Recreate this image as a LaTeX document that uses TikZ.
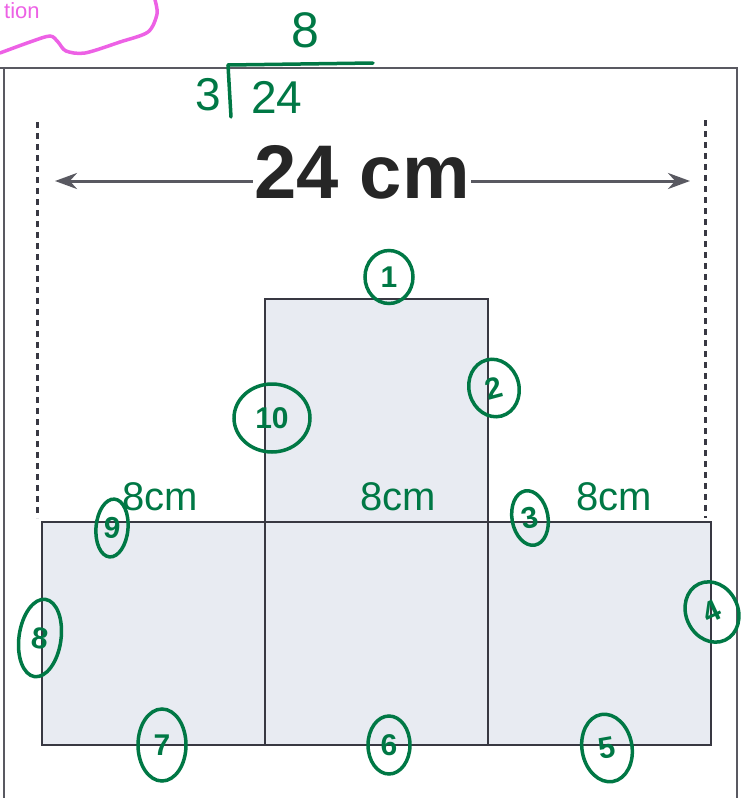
\documentclass[tikz,border=0pt]{standalone}
\usepackage{fontspec}
\setmainfont{Liberation Sans}
\usetikzlibrary{positioning, calc, arrows.meta, shapes.geometric}
\definecolor{FaceColor}{rgb}{0.91,0.92,0.95}
\definecolor{EdgeColor}{rgb}{0.22,0.22,0.26}
\definecolor{FrameColor}{rgb}{0.35,0.35,0.38}
\definecolor{InkGreen}{rgb}{0.0,0.47,0.27}
\definecolor{InkPink}{rgb}{0.93,0.38,0.90}
\tikzset{
    face/.style={
        rectangle,
        minimum width=223pt,
        minimum height=223pt,
        inner sep=0pt,
        outer sep=0pt,
        draw=EdgeColor,
        fill=FaceColor,
        line width=2.8pt
    },
    tally/.style={ellipse, draw=InkGreen, line width=3.5pt, text=InkGreen, inner sep=0pt,
        font=\fontsize{30}{30}\selectfont\bfseries},
    ink/.style={text=InkGreen, inner sep=0pt, font=\fontsize{40}{40}\selectfont},
    guide/.style={draw=EdgeColor, line width=3pt, dash pattern=on 6pt off 5pt},
    dimline/.style={{Stealth[length=22pt, width=16pt]}-{Stealth[length=22pt, width=16pt]}, draw=FrameColor, line width=3pt},
    frame/.style={draw=FrameColor, line width=1.3pt}
}

\begin{document}
\begin{tikzpicture}[x=1pt, y=-1pt]

\clip (0,0) rectangle (747,798);

% Pink note
\node[anchor=north west, text=InkPink, inner sep=0pt, font=\fontsize{22}{22}\selectfont] (note) at (4,2) {tion};
\draw[InkPink, line width=3.5pt, line cap=round] plot[smooth] coordinates {(0,53) (30,42) (50,36) (58,42) (66,51) (85,53) (120,42) (148,32) (157,14) (155,0)};

% Frame
\draw[frame] (0,68) -- (737,68) -- (737,798);
\draw[frame] (4,68) -- (4,798);

% Division
\node[ink, font=\fontsize{50}{50}\selectfont] (quot) at (305,30) {8};
\coordinate (barL) at (228,65);
\coordinate (barR) at (373,63);
\draw[InkGreen, line width=3.5pt, line cap=round] (barL) -- (barR);
\draw[InkGreen, line width=3.5pt, line cap=round] (barL) -- ++(3,52);
\node[ink, font=\fontsize{46}{46}\selectfont] (divisor) at (208,95) {3};
\node[ink, font=\fontsize{46}{46}\selectfont] (dividend) at (277,97) {24};

% Width dimension
\coordinate (gL1) at (37,122);
\coordinate (gL2) at (37,518);
\coordinate (gR1) at (705,120);
\coordinate (gR2) at (705,518);
\draw[guide] (gL1) -- (gL2);
\draw[guide] (gR1) -- (gR2);

\coordinate (dimL) at (55,181);
\coordinate (dimR) at (690,181);
\draw[dimline] (dimL) -- (dimR);
\node[fill=white, inner sep=1pt, text=black!85, font=\fontsize{76}{76}\selectfont\bfseries] (width) at (362,172) {24 cm};

% Net of squares
\node[face, anchor=north west] (sqL) at (42,522) {};
\node[face, right=0pt of sqL] (sqM) {};
\node[face, right=0pt of sqM] (sqR) {};
\node[face, above=0pt of sqM] (sqT) {};

% Side labels
\node[ink] (lenL) at (160,497) {8cm};
\node[ink] (lenM) at (398,497) {8cm};
\node[ink] (lenR) at (614,497) {8cm};

% Counted edges
\node[tally, minimum width=48pt, minimum height=53pt] (e1) at (389,277) {1};
\node[tally, minimum width=50pt, minimum height=58pt, rotate=15] (e2) at (494,388) {2};
\node[tally, minimum width=36pt, minimum height=55pt, rotate=10] (e3) at (530,518) {3};
\node[tally, minimum width=52pt, minimum height=62pt, rotate=25] (e4) at (712,612) {4};
\node[tally, minimum width=50pt, minimum height=68pt, rotate=10] (e5) at (607,748) {5};
\node[tally, minimum width=42pt, minimum height=58pt] (e6) at (389,745) {6};
\node[tally, minimum width=48pt, minimum height=72pt] (e7) at (162,745) {7};
\node[tally, minimum width=42pt, minimum height=78pt, rotate=-8] (e8) at (40,638) {8};
\node[tally, minimum width=32pt, minimum height=58pt, rotate=-5] (e9) at (112,528) {9};
\node[tally, minimum width=76pt, minimum height=68pt] (e10) at (272,418) {10};

\end{tikzpicture}
\end{document}
